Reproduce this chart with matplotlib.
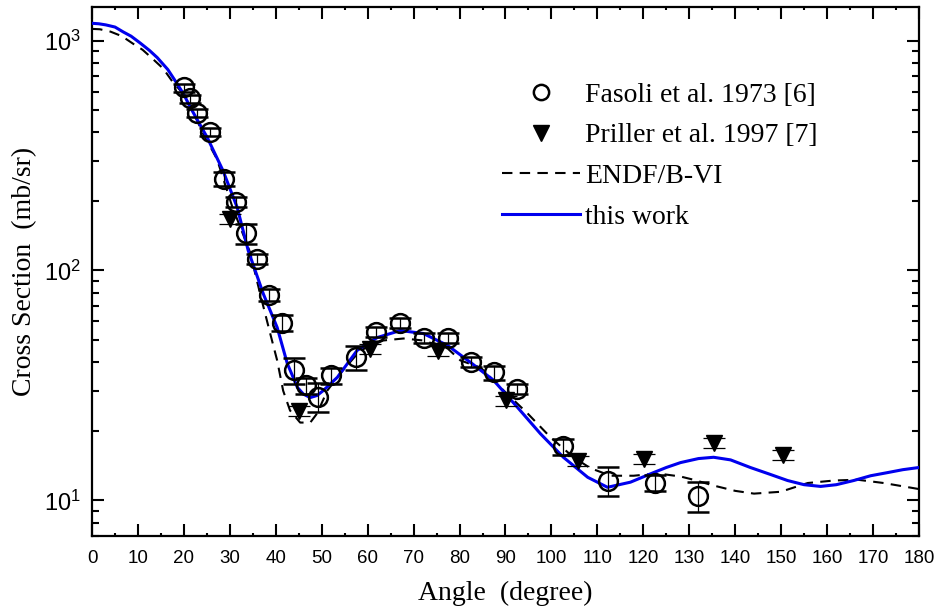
import matplotlib
matplotlib.use('Agg')
import matplotlib.pyplot as plt
from matplotlib.lines import Line2D
from matplotlib.ticker import MultipleLocator, LogLocator, NullFormatter

SERIF = ['Liberation Serif', 'DejaVu Serif']
SANS = ['Liberation Sans', 'DejaVu Sans']
plt.rcParams['font.family'] = SANS
plt.rcParams['mathtext.fontset'] = 'custom'
plt.rcParams['mathtext.rm'] = 'Liberation Sans'
plt.rcParams['mathtext.default'] = 'regular'

# --- data -------------------------------------------------------------------
fasoli_angle = [20.0, 21.4, 22.9, 25.7, 28.8, 31.4, 33.6, 36.0, 38.6, 41.4,
                44.0, 46.6, 49.2, 52.1, 57.5, 61.9, 67.1, 72.3, 77.4, 82.6,
                87.6, 92.6, 102.6, 112.4, 122.5, 131.8]
fasoli_xs = [625, 560, 486, 402, 251, 198, 145, 112, 78, 59,
             37, 31.6, 28.3, 35, 42, 54, 59, 51, 51, 40,
             36, 30.4, 17.2, 12.2, 11.9, 10.5]
fasoli_relerr = [0.04, 0.04, 0.04, 0.04, 0.07, 0.05, 0.10, 0.05, 0.06, 0.08,
                 0.13, 0.08, 0.14, 0.08, 0.12, 0.05, 0.05, 0.05, 0.05, 0.05,
                 0.07, 0.05, 0.08, 0.14, 0.08, 0.15]

priller_angle = [30.1, 45.1, 60.4, 75.2, 90.2, 105.7, 120.1, 135.3, 150.3]
priller_xs = [168, 24.6, 45.4, 44.5, 27.2, 14.9, 15.2, 17.7, 15.7]
priller_relerr = [0.05, 0.05, 0.05, 0.05, 0.05, 0.05, 0.05, 0.05, 0.05]

endf_angle = [0, 1.7, 4.0, 6.5, 8.9, 11.0, 13.0, 15.5, 17.5, 19.8, 22.0,
              24.2, 27.2, 30.5, 34.4, 36.6, 38.8,
              40.3, 41.6, 43.1, 45.3, 47.5, 49.0, 51.2, 54.0, 58.4, 63.4,
              67.8, 72.1, 77.4, 80.2, 84.6, 88.9, 94.8, 99.8, 104.8, 108.5,
              112.9, 117.9, 123.1, 128.1, 130.9, 135.3, 140.0, 144.1, 149.9,
              155.8, 161.5, 166.6, 172.3, 180.0]
endf_xs = [1124, 1120, 1094, 1045, 970, 912, 840, 755, 663, 589, 488,
           394, 305, 190, 120, 79, 53,
           40.6, 30, 24.6, 21.8, 21.8, 23.9, 30, 35.6, 44.9, 49.6,
           50.6, 49.6, 45.8, 40.6, 37.8, 31, 23.9, 18.8, 15.4, 13.8,
           12.8, 12.8, 13.1, 12.7, 12.3, 11.6, 11.0, 10.7, 10.9,
           11.9, 12.2, 12.3, 11.9, 11.2]

fit_angle = [0, 1.5, 3.0, 5.0, 6.8, 8.5, 10.5, 12.5, 14.2, 16.5, 18.5, 20.0,
             21.4, 25.1, 28.5, 31.6, 34.0,
             37.3, 40.3, 42.5, 44.7, 46.0, 47.5, 49.0, 50.3, 53.4, 57.7,
             62.1, 67.1, 72.1, 77.4, 82.4, 87.4, 92.6, 97.6, 102.6, 107.9,
             112.2, 117.2, 122.2, 125.0, 128.1, 132.0, 135.3, 139.0, 143.3,
             147.5, 151.4, 155.0, 158.6, 162.0, 165.8, 169.5, 173.1, 176.5,
             180.0]
fit_xs = [1189, 1183, 1170, 1145, 1090, 1045, 975, 906, 843, 748, 650, 582,
          512, 378, 272, 188, 122,
          79, 56.5, 39.4, 31, 29.0, 28.0, 28.6, 30, 34.3, 44.9,
          51.1, 54.8, 53.2, 47.2, 39.8, 33.3, 25.4, 19.5, 15.4, 12.6,
          11.4, 12.0, 13.2, 13.9, 14.6, 15.2, 15.4, 15.0, 13.9,
          13.0, 12.2, 11.7, 11.5, 11.7, 12.2, 12.8, 13.2, 13.6,
          13.9]

legend_labels = ['Fasoli et al. 1973 [6]', 'Priller et al. 1997 [7]',
                 'ENDF/B-VI', 'this work']

# --- figure -----------------------------------------------------------------
fig = plt.figure(figsize=(9.43, 6.12), dpi=100)
ax = fig.add_axes([0.0976, 0.1242, 0.8769, 0.8644])

ax.plot(endf_angle, endf_xs, color='black', lw=1.5, ls=(0, (5, 3.5)), zorder=2)
ax.plot(fit_angle, fit_xs, color='#0000ee', lw=2.2, zorder=3)

f_err = [v * e for v, e in zip(fasoli_xs, fasoli_relerr)]
ax.errorbar(fasoli_angle, fasoli_xs, yerr=f_err, fmt='o', ms=13.5,
            mfc='none', mec='black', mew=1.8, ecolor='black', elinewidth=0.9,
            capsize=8, capthick=0.9, zorder=4)
p_err = [v * e for v, e in zip(priller_xs, priller_relerr)]
ax.errorbar(priller_angle, priller_xs, yerr=p_err, fmt='v', ms=11,
            mfc='black', mec='black', ecolor='black', elinewidth=0.9,
            capsize=8, capthick=0.9, zorder=4)

ax.set_yscale('log')
ax.set_xlim(0, 180)
ax.set_ylim(7, 1400)
ax.xaxis.set_major_locator(MultipleLocator(10))
ax.xaxis.set_minor_locator(MultipleLocator(5))
ax.yaxis.set_major_locator(LogLocator(base=10, numticks=10))
ax.yaxis.set_minor_locator(LogLocator(base=10, subs=range(2, 10), numticks=10))
ax.yaxis.set_minor_formatter(NullFormatter())

for s in ax.spines.values():
    s.set_linewidth(1.6)
ax.tick_params(which='both', direction='in', top=True, right=True, width=1.5)
ax.tick_params(axis='both', which='major', length=8.5)
ax.tick_params(axis='x', which='minor', length=2.5)
ax.tick_params(axis='y', which='minor', length=5)
ax.tick_params(axis='x', which='major', labelsize=13.5, pad=10)
ax.tick_params(axis='y', which='major', labelsize=17, pad=8)

ax.set_xlabel('Angle  (degree)', family=SERIF, fontsize=20, labelpad=10)
ax.set_ylabel('Cross Section  (mb/sr)', family=SERIF, fontsize=20, labelpad=5)

handles = [
    Line2D([], [], ls='none', marker='o', ms=11, mfc='none', mec='black', mew=1.8),
    Line2D([], [], ls='none', marker='v', ms=11, mfc='black', mec='black'),
    Line2D([], [], color='black', lw=1.5, ls=(0, (5, 3.5))),
    Line2D([], [], color='#0000ee', lw=2.2),
]
ax.legend(handles, legend_labels, loc='upper left', bbox_to_anchor=(0.466, 0.905),
          frameon=False, prop={'family': SERIF, 'size': 20}, handlelength=2.8,
          handletextpad=0.18, labelspacing=0.55, numpoints=1)

fig.savefig('out.png', dpi=100)
